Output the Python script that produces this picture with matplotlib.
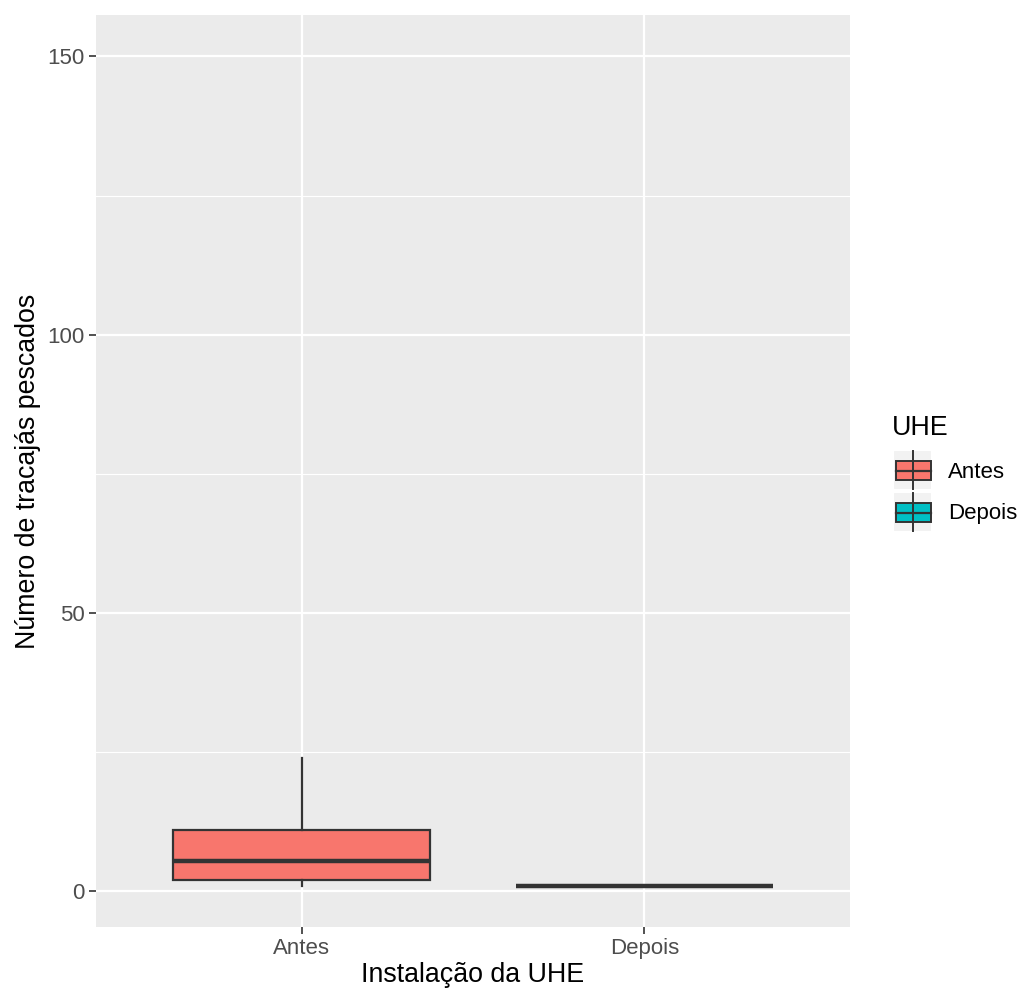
import matplotlib
matplotlib.use("Agg")
import matplotlib.pyplot as plt
from matplotlib.patches import Rectangle
from matplotlib.lines import Line2D

plt.rcParams["font.family"] = ["Liberation Sans", "DejaVu Sans"]

# data
categories = ["Antes", "Depois"]
whisker_low = [1, 1]
q1 = [2, 1]
median = [5.5, 1]
q3 = [11, 1]
whisker_high = [24, 1]
data_min = 1
data_max = 150  # outliers hidden in the original

fills = ["#F8766D", "#00BFC4"]
edge = "#333333"
panel_bg = "#EBEBEB"

W, H = 1026, 994
fig = plt.figure(figsize=(W / 100, H / 100), dpi=100)

# panel in pixel units
px_l, px_r, px_t, px_b = 96, 850, 15, 927
ax = fig.add_axes([px_l / W, 1 - px_b / H, (px_r - px_l) / W, (px_b - px_t) / H])
ax.set_facecolor(panel_bg)
for s in ax.spines.values():
    s.set_visible(False)

stats = []
for i, c in enumerate(categories):
    stats.append(dict(label=c, whislo=whisker_low[i], q1=q1[i], med=median[i],
                      q3=q3[i], whishi=whisker_high[i], fliers=[]))
pos = list(range(1, len(categories) + 1))
bp = ax.bxp(stats, positions=pos, widths=0.75, patch_artist=True,
            showfliers=False, showcaps=False, zorder=3,
            boxprops=dict(edgecolor=edge, linewidth=1.6),
            whiskerprops=dict(color=edge, linewidth=1.6),
            medianprops=dict(color=edge, linewidth=3.2, solid_capstyle="butt"))
for patch, f in zip(bp["boxes"], fills):
    patch.set_facecolor(f)

span = data_max - data_min
ax.set_ylim(data_min - 0.05 * span, data_max + 0.05 * span)
ax.set_xlim(0.4, len(categories) + 0.6)

ax.set_yticks([0, 50, 100, 150])
ax.set_yticks([25, 75, 125], minor=True)
ax.set_xticks(pos)
ax.set_xticklabels(categories)
ax.grid(True, which="major", color="white", linewidth=1.6, zorder=0)
ax.grid(True, which="minor", axis="y", color="white", linewidth=0.8, zorder=0)
ax.set_axisbelow(True)
ax.tick_params(axis="both", which="major", length=5, width=1.2, color=edge,
               labelcolor="#4D4D4D", labelsize=16, pad=3)
ax.tick_params(axis="both", which="minor", length=0)

ax.set_xlabel("Instalação da UHE", fontsize=19.3, labelpad=2)
ax.set_ylabel("Número de tracajás pescados", fontsize=19.3, labelpad=5)

# legend drawn on an overlay in pixel coordinates
leg = fig.add_axes([0, 0, 1, 1], facecolor="none")
leg.set_xlim(0, W)
leg.set_ylim(H, 0)
leg.axis("off")
leg.text(892, 428, "UHE", fontsize=19.3, va="center", ha="left")
for k, (c, f) in enumerate(zip(categories, fills)):
    y0 = 450 + k * 42
    leg.add_patch(Rectangle((893, y0), 39, 40, facecolor="#F2F2F2", edgecolor="white", lw=1.5))
    leg.add_line(Line2D([913, 913], [y0 + 1, y0 + 39], color=edge, lw=1.4))
    leg.add_patch(Rectangle((896, y0 + 11), 35, 19, facecolor=f, edgecolor=edge, lw=1.4))
    leg.add_line(Line2D([896, 931], [y0 + 20.5, y0 + 20.5], color=edge, lw=1.6))
    leg.text(948, y0 + 22, c, fontsize=16, va="center", ha="left")

fig.savefig("out.png", dpi=100)
